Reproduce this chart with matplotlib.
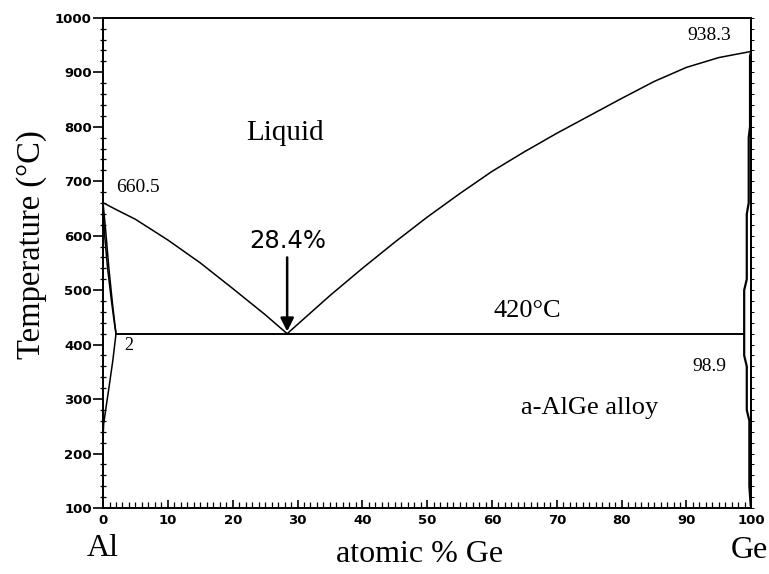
"""
Al-Ge phase diagram (liquidus, eutectic at 28.4 % Ge / 420 C).
"""

import matplotlib.pyplot as plt
from matplotlib.ticker import MultipleLocator

# liquidus, Al side (atomic % Ge, temperature in C)
liq_al_x = [0, 2, 5, 10, 15, 20, 25, 28.4]
liq_al_t = [660.5, 648, 630, 592, 550, 503, 455, 420]

# liquidus, Ge side
liq_ge_x = [28.4, 30, 35, 40, 45, 50, 55, 60, 65, 70, 75, 80, 85, 90, 95, 100]
liq_ge_t = [420, 437, 490, 540, 588, 634, 677, 718, 754, 788, 820, 852, 883, 909, 927, 938.3]

# Al-rich solid solution boundaries
sol_al_x = [0, 0.4, 0.9, 1.5, 2.0]
sol_al_t = [660.5, 610, 540, 470, 420]
sol_al_x2 = [0, 0.25, 0.7, 1.3, 1.8, 2.0]
sol_al_t2 = [645, 600, 540, 480, 435, 420]
solv_al_x = [2.0, 1.5, 0.9, 0.4, 0.1, 0, 0]
solv_al_t = [420, 370, 320, 280, 255, 230, 190]

# Ge-rich side
sol_ge_x = [100, 99.8, 99.8, 99.6, 99.6, 99.3, 99.3, 98.9, 98.9, 99.3, 99.3, 99.7, 99.7, 99.9]
sol_ge_t = [938.3, 930, 800, 780, 660, 640, 520, 500, 380, 360, 280, 260, 140, 105]

# eutectic line
eut_x = [2.0, 98.9]
eut_t = [420, 420]

serif = "Liberation Serif"

fig = plt.figure(figsize=(7.69, 5.74), dpi=100)
ax = fig.add_axes([0.134, 0.115, 0.843, 0.854])

lw = 1.1
ax.plot(liq_al_x, liq_al_t, color="black", lw=lw)
ax.plot(liq_ge_x, liq_ge_t, color="black", lw=lw)
ax.plot(sol_al_x, sol_al_t, color="black", lw=lw)
ax.plot(sol_al_x2, sol_al_t2, color="black", lw=lw)
ax.plot(solv_al_x, solv_al_t, color="black", lw=lw)
ax.plot(sol_ge_x, sol_ge_t, color="black", lw=1.6)
ax.plot(eut_x, eut_t, color="black", lw=1.4)

ax.set_xlim(0, 100)
ax.set_ylim(100, 1000)

ax.xaxis.set_major_locator(MultipleLocator(10))
ax.xaxis.set_minor_locator(MultipleLocator(1))
ax.yaxis.set_major_locator(MultipleLocator(100))
ax.yaxis.set_minor_locator(MultipleLocator(20))

ax.tick_params(axis="x", which="major", direction="in", length=6, width=1.2, pad=4)
ax.tick_params(axis="x", which="minor", direction="in", length=4, width=0.9)
ax.tick_params(axis="y", which="major", direction="out", length=7, width=1.2, pad=1)
ax.tick_params(axis="y", which="minor", direction="inout", length=5, width=0.9)

# small marks on the right spine
ax2 = ax.secondary_yaxis("right")
ax2.yaxis.set_major_locator(MultipleLocator(20))
ax2.tick_params(direction="out", length=2, width=0.7, labelright=False)
ax2.spines["right"].set_linewidth(1.4)

for lab in ax.get_xticklabels() + ax.get_yticklabels():
    lab.set_fontfamily("DejaVu Sans")
    lab.set_fontweight("bold")
    lab.set_fontsize(9.5)

for sp in ax.spines.values():
    sp.set_linewidth(1.4)

fig.text(32 / 769, 1 - 245 / 574, "Temperature (°C)", fontfamily=serif, fontsize=23.5,
         rotation=90, ha="center", va="center")
fig.text(420 / 769, 1 - 555 / 574, "atomic % Ge", fontfamily=serif, fontsize=23,
         ha="center", va="center")
fig.text(103 / 769, 1 - 548 / 574, "Al", fontfamily=serif, fontsize=23, ha="center", va="center")
fig.text(768 / 769, 1 - 551 / 574, "Ge", fontfamily=serif, fontsize=23, ha="right", va="center")

# annotations
ax.text(2.0, 688, "660.5", fontfamily=serif, fontsize=14, va="center")
ax.text(93.5, 968, "938.3", fontfamily=serif, fontsize=14, ha="center", va="center")
ax.text(28.1, 789, "Liquid", fontfamily=serif, fontsize=21, ha="center", va="center")
ax.text(28.5, 590, "28.4%", fontfamily="DejaVu Sans", fontsize=17.5, ha="center", va="center")
ax.annotate("", xy=(28.4, 424), xytext=(28.4, 560),
            arrowprops=dict(arrowstyle="-|>", color="black", lw=1.8,
                            mutation_scale=20, shrinkA=0, shrinkB=0))
ax.text(65.5, 462, "420°C", fontfamily=serif, fontsize=19, ha="center", va="center")
ax.text(3.2, 398, "2", fontfamily=serif, fontsize=13, va="center")
ax.text(93.5, 360, "98.9", fontfamily=serif, fontsize=14, ha="center", va="center")
ax.text(75, 283, "a-AlGe alloy", fontfamily=serif, fontsize=19, ha="center", va="center")

fig.savefig("out.png", dpi=100)
